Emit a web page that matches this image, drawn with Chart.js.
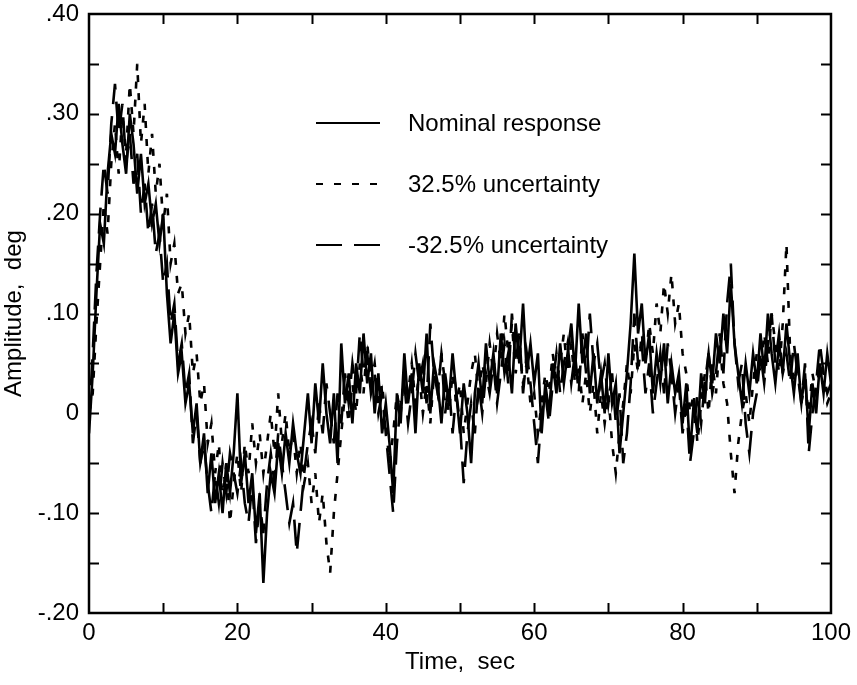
<!DOCTYPE html>
<html>
<head>
<meta charset="utf-8">
<script src="https://cdn.jsdelivr.net/npm/chart.js@4/dist/chart.umd.min.js"></script>
<style>
  html, body { margin: 0; padding: 0; background: #fff; }
  #wrap { width: 857px; height: 685px; }
</style>
</head>
<body>
<div id="wrap"><canvas id="c" width="857" height="685"></canvas></div>
<script>
const timeStart = 0;
const timeStep = 0.5;

const seriesLabels = ['Nominal response', '32.5% uncertainty', '-32.5% uncertainty'];

const nominal = [
  -.02, .04, .12, .19, .17, .24, .28, .26, .31, .27,
  .24, .30, .27, .22, .26, .21, .23, .19, .21, .17,
  .20, .12, .07, .10, .04, .06, .01, .03, -.02, .01,
  -.05, -.02, -.08, -.04, -.09, -.06, -.10, -.05, -.08, -.04,
  .02, -.07, -.04, -.09, -.06, -.12, -.08, -.17, -.10, -.06,
  -.08, -.03, -.06, -.02, -.05, -.01, -.04, -.06, -.02, .02,
  -.03, .03, -.01, .05, .00, -.03, .02, -.05, .07, .01,
  .04, -.01, .05, .02, .08, .03, .06, .00, .04, -.02,
  .01, -.03, -.08, .02, -.01, .06, .01, .04, -.02, .05,
  .02, .08, .00, .05, .03, -.01, .04, .01, .06, .02,
  -.02, .03, .00, -.05, .02, .05, .01, .07, .03, .06,
  .02, .08, .04, .06, .02, .09, .05, .11, .04, .07,
  .03, .06, -.02, .03, .00, .05, .02, .07, .03, .06,
  .09, .04, .11, .05, .08, .02, .06, .01, .04, .00,
  .06, .01, .03, -.04, .00, .04, .09, .16, .08, .11,
  .05, .08, .02, .06, .03, .07, .01, .05, .02, .04,
  -.01, .03, -.04, .01, -.02, .04, .01, .06, .03, .08,
  .05, .10, .06, .13, .07, .04, .01, .05, .02, .06,
  .03, .08, .04, .10, .06, .03, .07, .04, .09, .05,
  .02, .06, .01, .04, -.02, .03, .00, .05, .02, .06,
  .03
];

const plus325 = [
  .00, .02, .09, .15, .21, .18, .25, .29, .24, .30,
  .26, .33, .28, .35, .27, .31, .24, .28, .22, .25,
  .19, .22, .15, .17, .12, .13, .08, .10, .04, .06,
  .01, .03, -.03, -.01, -.06, -.03, -.09, -.05, -.11, -.07,
  -.04, -.08, -.03, -.06, -.01, -.05, -.02, -.06, -.03, .00,
  -.04, .02, -.03, .00, -.04, -.02, -.06, -.03, -.07, -.05,
  -.09, -.06, -.11, -.08, -.13, -.16, -.10, -.06, -.02, .02,
  -.01, .03, .00, .05, .02, .07, .03, .05, .01, .03,
  -.01, -.05, -.02, .02, .00, .04, .02, .05, .01, .04,
  .00, .03, -.01, .04, .02, .06, .03, .00, .04, .01,
  .03, -.02, .01, .04, .06, .02, .05, .03, .07, .04,
  .08, .05, .10, .06, .09, .04, .07, .03, .05, .01,
  .02, -.02, .01, .04, .02, .06, .03, .05, .08, .04,
  .07, .03, .05, .01, .04, .00, .03, -.02, .02, -.01,
  .02, -.03, -.06, -.02, .01, .05, .02, .07, .04, .08,
  .05, .09, .06, .11, .08, .13, .10, .14, .09, .11,
  .06, .04, .00, .02, -.03, .01, .04, .00, .05, .02,
  .07, .03, .01, -.04, -.08, -.03, .00, .02, -.01, .03,
  .06, .04, .08, .05, .10, .07, .04, .09, .17, .06,
  .03, .05, .01, .03, .00, .04, .02, .05, .03, .01,
  .02
];

const minus325 = [
  -.01, .06, .14, .20, .25, .22, .29, .33, .28, .31,
  .25, .28, .23, .26, .20, .23, .18, .21, .16, .18,
  .13, .15, .09, .11, .05, .07, .02, .04, -.03, .00,
  -.05, -.03, -.07, -.10, -.06, -.09, -.05, -.08, -.04, -.06,
  -.08, -.05, -.09, -.11, -.07, -.13, -.09, -.12, -.07, -.04,
  -.07, -.02, -.05, -.08, -.11, -.09, -.14, -.10, -.06, -.03,
  -.01, -.04, .01, -.02, .03, .00, -.03, .02, -.01, .04,
  .01, .05, .02, .08, .04, .06, .02, .04, .00, .02,
  -.02, -.06, -.10, -.03, .01, .03, -.01, .02, .06, .03,
  .05, .01, .09, .04, .02, .06, .00, .03, -.02, .02,
  -.01, -.07, -.02, .01, -.02, .03, .00, .04, .02, .05,
  .01, .04, .07, .03, .10, .05, .08, .02, .06, .03,
  -.01, -.05, .00, .02, -.01, .03, .06, .02, .05, .07,
  .03, .06, .02, .08, .04, .10, .05, .07, .03, .05,
  .01, .04, -.01, .02, -.05, -.02, .03, .10, .05, .07,
  .02, .05, .00, .03, .06, .02, .07, .04, .00, .03,
  -.02, .01, -.05, -.02, .02, -.01, .03, .06, .02, .04,
  .08, .04, .11, .15, .07, .03, .05, -.01, -.04, .00,
  .02, .06, .03, .07, .10, .05, .08, .04, .06, .03,
  .07, .04, .01, .05, -.04, .00, .03, .07, .04, .02,
  .03
];

// axis ticks
const xTickValues = [0, 20, 40, 60, 80, 100];
const xTickLabels = ['0', '20', '40', '60', '80', '100'];
const xMarkValues = [10, 20, 30, 40, 50, 60, 70, 80, 90];
const yTickValues = [-0.2, -0.1, 0, 0.1, 0.2, 0.3, 0.4];
const yTickLabels = ['-.20', '-.10', '0', '.10', '.20', '.30', '.40'];
const yMarkValues = [-0.15, -0.1, -0.05, 0, 0.05, 0.1, 0.15, 0.2, 0.25, 0.3, 0.35];

// ---- build points ----
function toPoints(arr) {
  return arr.map((v, i) => ({ x: timeStart + i * timeStep, y: v }));
}

const FONT = '"Liberation Sans", Arial, Helvetica, sans-serif';

const dashes = [[], [7, 11], [26, 12]];

const frameAndTicks = {
  id: 'frameAndTicks',
  afterDatasetsDraw(chart) {
    const { ctx, chartArea: a, scales: { x, y } } = chart;
    ctx.save();
    ctx.strokeStyle = '#000';
    ctx.lineWidth = 2;
    ctx.beginPath();
    const L = 10;
    for (const v of xMarkValues) {
      const px = Math.round(x.getPixelForValue(v)) + 0.5;
      ctx.moveTo(px, a.bottom); ctx.lineTo(px, a.bottom - L);
      ctx.moveTo(px, a.top); ctx.lineTo(px, a.top + L);
    }
    for (const v of yMarkValues) {
      const py = Math.round(y.getPixelForValue(v)) + 0.5;
      ctx.moveTo(a.left, py); ctx.lineTo(a.left + L, py);
      ctx.moveTo(a.right, py); ctx.lineTo(a.right - L, py);
    }
    ctx.stroke();
    ctx.lineWidth = 2.5;
    ctx.strokeRect(a.left, a.top, a.right - a.left, a.bottom - a.top);
    ctx.restore();
  }
};

const insideLegend = {
  id: 'insideLegend',
  afterDraw(chart) {
    const { ctx } = chart;
    const x0 = 316, x1 = 380, tx = 408;
    const rows = [123, 184, 245];
    ctx.save();
    ctx.font = '24px ' + FONT;
    ctx.fillStyle = '#000';
    ctx.textBaseline = 'middle';
    chart.data.datasets.forEach((ds, i) => {
      ctx.strokeStyle = '#000';
      ctx.lineWidth = 2;
      ctx.setLineDash(ds.borderDash || []);
      ctx.beginPath();
      ctx.moveTo(x0, rows[i]);
      ctx.lineTo(x1, rows[i]);
      ctx.stroke();
      ctx.setLineDash([]);
      ctx.fillText(ds.label, tx, rows[i] + 1);
    });
    ctx.restore();
  }
};

new Chart(document.getElementById('c'), {
  type: 'line',
  data: {
    datasets: [
      { label: seriesLabels[0], data: toPoints(nominal), borderDash: dashes[0] },
      { label: seriesLabels[1], data: toPoints(plus325), borderDash: dashes[1] },
      { label: seriesLabels[2], data: toPoints(minus325), borderDash: dashes[2] }
    ].map(d => Object.assign(d, {
      borderColor: '#000', borderWidth: 2.6, pointRadius: 0, tension: 0, fill: false
    }))
  },
  options: {
    responsive: false,
    animation: false,
    devicePixelRatio: 1,
    layout: { padding: { left: 0, right: 26, top: 14, bottom: 0 } },
    plugins: { legend: { display: false }, tooltip: { enabled: false } },
    scales: {
      x: {
        type: 'linear', min: 0, max: 100,
        grid: { display: false, drawTicks: false },
        border: { display: false },
        afterBuildTicks: s => { s.ticks = xTickValues.map(v => ({ value: v })); },
        afterFit: s => { s.height = 72; },
        ticks: {
          color: '#000', padding: 6, maxRotation: 0, autoSkip: false,
          font: { family: FONT, size: 24 },
          callback: v => xTickLabels[xTickValues.indexOf(v)]
        },
        title: {
          display: true, text: 'Time,  sec', color: '#000',
          font: { family: FONT, size: 24 }, padding: { top: 0, bottom: 8 }
        }
      },
      y: {
        type: 'linear', min: -0.2, max: 0.4,
        grid: { display: false, drawTicks: false },
        border: { display: false },
        afterBuildTicks: s => { s.ticks = yTickValues.map(v => ({ value: v })); },
        afterFit: s => { s.width = 89; s.paddingTop = 0; s.paddingBottom = 0; },
        ticks: {
          color: '#000', padding: 10, autoSkip: false,
          font: { family: FONT, size: 24 },
          callback: (v, i) => yTickLabels[i]
        },
        title: {
          display: true, text: 'Amplitude,  deg', color: '#000',
          font: { family: FONT, size: 24 }, padding: { top: 0, bottom: 6 }
        }
      }
    }
  },
  plugins: [frameAndTicks, insideLegend]
});
</script>
</body>
</html>
